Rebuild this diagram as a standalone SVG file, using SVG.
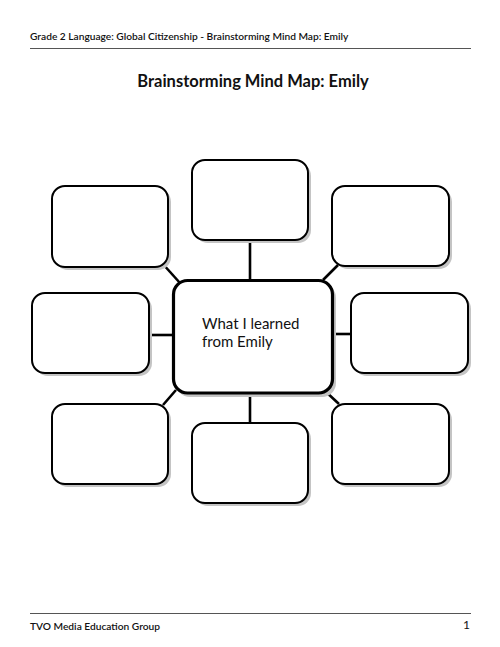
<svg xmlns="http://www.w3.org/2000/svg" width="500" height="647" viewBox="0 0 500 647">
<style>
text{font-family:Lato,"Liberation Sans",sans-serif;fill:#111}
.hdr{font-size:10.2px;font-weight:600}
.title{font-size:16.5px;font-weight:700}
.ctr{font-size:15px}
.rule{stroke:#555;stroke-width:1}
.box{fill:#fff;stroke:#000;stroke-width:2}
.sh{fill:#c4c4c4}
.cbox{fill:#fff;stroke:#000;stroke-width:3.2}
.con{stroke:#000;stroke-width:2.6;fill:none}
</style>
<rect width="500" height="647" fill="#fff"/>
<g id="header">
<text class="hdr" x="30" y="40">Grade 2 Language: Global Citizenship - Brainstorming Mind Map: Emily</text>
<line class="rule" x1="30" y1="48.5" x2="471" y2="48.5"/>
<text class="title" x="253" y="87" text-anchor="middle">Brainstorming Mind Map: Emily</text>
</g>
<g id="connectors">
<line class="con" x1="250" y1="240" x2="250" y2="281"/>
<line class="con" x1="250" y1="393" x2="250" y2="423"/>
<line class="con" x1="149" y1="335" x2="174" y2="335"/>
<line class="con" x1="332" y1="334" x2="351" y2="334"/>
<line class="con" x1="162" y1="263" x2="180" y2="283"/>
<line class="con" x1="338" y1="265" x2="323" y2="280"/>
<line class="con" x1="176" y1="390" x2="163" y2="405"/>
<line class="con" x1="324" y1="390" x2="339" y2="404"/>
</g>
<g id="node-center">
<rect class="sh" x="176" y="284" width="160" height="113" rx="14"/>
<rect class="cbox" x="173.5" y="280.5" width="159" height="112.5" rx="14"/>
<text class="ctr" x="202" y="329">What I learned</text>
<text class="ctr" x="202" y="347">from Emily</text>
</g>
<g id="node-top">
<rect class="sh" x="195" y="163" width="116" height="80" rx="13"/>
<rect class="box" x="192" y="160" width="116" height="80" rx="13"/>
</g>
<g id="node-top-left">
<rect class="sh" x="55" y="189" width="116" height="81" rx="13"/>
<rect class="box" x="52" y="186" width="116" height="81" rx="13"/>
</g>
<g id="node-top-right">
<rect class="sh" x="335" y="189" width="117" height="80" rx="13"/>
<rect class="box" x="332" y="186" width="117" height="80" rx="13"/>
</g>
<g id="node-left">
<rect class="sh" x="35" y="296" width="117" height="80" rx="13"/>
<rect class="box" x="32" y="293" width="117" height="80" rx="13"/>
</g>
<g id="node-right">
<rect class="sh" x="354" y="296" width="117" height="80" rx="13"/>
<rect class="box" x="351" y="293" width="117" height="80" rx="13"/>
</g>
<g id="node-bottom-left">
<rect class="sh" x="55" y="407" width="116" height="80" rx="13"/>
<rect class="box" x="52" y="404" width="116" height="80" rx="13"/>
</g>
<g id="node-bottom">
<rect class="sh" x="195" y="426" width="116" height="80" rx="13"/>
<rect class="box" x="192" y="423" width="116" height="80" rx="13"/>
</g>
<g id="node-bottom-right">
<rect class="sh" x="335" y="407" width="117" height="80" rx="13"/>
<rect class="box" x="332" y="404" width="117" height="80" rx="13"/>
</g>
<g id="footer">
<line class="rule" x1="30" y1="613.5" x2="471" y2="613.5"/>
<text class="hdr" x="30" y="630">TVO Media Education Group</text>
<text class="hdr" x="470" y="629" text-anchor="end" style="font-weight:400;font-size:12px">1</text>
</g>
</svg>
